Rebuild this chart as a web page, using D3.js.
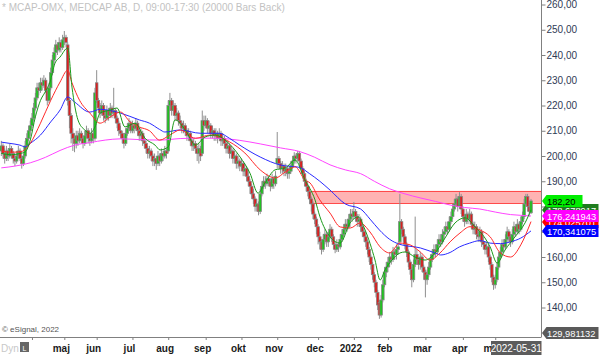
<!DOCTYPE html>
<html><head><meta charset="utf-8">
<script src="https://cdn.jsdelivr.net/npm/d3@7"></script>
<style>html,body{margin:0;padding:0;background:#fff;overflow:hidden}svg{display:block;font-family:"Liberation Sans",Arial,sans-serif}</style>
</head><body><svg id="c" width="600" height="355"></svg>
<script>
// Daily OHLC, index 0 = 2021-03-08 ... index 311 = 2022-05-31
const open=[202,204,201,199,202,200,203,201,199,198,
200,202,199,197,200,204,207,210,212,215,
219,223,227,226,229,228,230,226,222,227,
233,238,241,244,242,245,243,246,247,244,
222,216,209,207,205,208,206,209,207,205,
208,210,207,206,209,207,229,222,219,217,
220,216,215,218,216,219,217,218,215,213,
210,209,207,205,209,211,213,210,212,211,
213,210,208,209,206,205,203,201,202,200,
198,199,197,200,198,201,200,202,202,220,
222,218,220,216,217,214,213,211,212,210,
208,209,206,204,205,203,201,203,201,214,
212,214,211,212,209,210,208,209,207,209,
206,207,205,203,204,201,202,199,200,197,
198,196,197,194,195,192,190,188,185,183,
180,181,178,185,188,190,189,191,190,188,
191,189,197,199,197,195,196,194,195,193,
194,196,198,200,199,201,198,195,193,190,
188,186,183,181,177,175,172,168,166,163,
167,169,166,168,171,168,165,163,165,164,
167,169,171,173,172,175,177,176,178,176,
174,175,172,170,168,166,163,160,157,153,
150,146,142,137,143,149,154,156,158,160,
159,162,161,163,166,174,171,168,165,162,
158,155,151,157,161,159,157,160,156,154,
151,153,156,159,161,163,162,165,167,166,
169,170,172,171,174,176,179,181,183,180,
184,179,176,174,177,175,177,173,171,172,
169,168,170,166,165,163,164,160,157,152,
149,151,156,160,162,165,164,167,170,168,
166,169,172,170,173,171,174,176,181,184,
180,177.5];
const high=[206,205,203,204,203,205,204,202,201,202,
204,203,200,201,206,209,212,214,217,221,
225,229,229,231,231,232,231,227,229,235,
240,243,246,245,247,246,248,249.5,248,245,
223,217,211,209,210,210,211,210,208,210,
212,211,209,211,210,227,234,223,221,222,
221,218,220,219,221,220,227,219,216,214,
212,210,208,211,213,215,214,214,213,215,
214,211,211,210,208,206,204,204,203,201,
201,200,202,201,203,202,204,203,222,225,
223,222,221,219,218,216,214,214,213,211,
211,210,207,207,206,204,205,204,218,216,
216,215,214,213,212,211,211,210,211,210,
209,208,206,206,205,204,203,202,201,200,
199,199,198,197,196,194,191,189,187,184,
183,182,187,190,192,192,193,192,191,193,
192,194,209.5,200,198,198,197,197,196,196,
198,200,201.5,201,202,202,199,196,194,191,
189,187,184,182,178,176,173,170,167,169,
171,170,170,173,172,169,166,167,166,169,
171,173,175,175,177,179,179,181.8,179,177,
177,176,173,171,169,167,164,161,158,154,
151,147,143,145,151,156,158,160,162,162,
164,163,165,166,185,175,172,169,166,163,
159,156,159,176,163,160,162,161,157,155,
155,158,161,163,165,165,167,169,169,171,
172,174,174,176,178,181,183,185,184,185.7,
185,180,177,179,178,179,178,174,174,173,
171,172,171,168,166,166,165,161,158,153,
153,158,162,164,167,167,169,172,171,169,
171,174,173,175,174,176,178,183,185,185,
181,183];
const low=[200,199,197,198,198,199,199,197,196,197,
199,198,195,196,199,203,206,208,211,214,
218,222,224,225,226,227,225,220,221,226,
232,236,239,240,241,241,242,244,243,220,
211,205,202,201.5,203,204,205,205,203,204,
207,205,204,205,205,206,221,217,215,216,
214,213,214,214,215,215,216,213,211,208,
207,205,203,204,208,210,209,209,209,210,
208,206,206,204,203,201,199,199,198,196,
196,194.5,196,196,197,198,199,199,201,218,
216,216,214,214,212,211,209,209,208,206,
206,204,202,202,201,198,197,198,200,210,
211,209,209,207,207,206,206,205,206,204,
204,203,201,201,199,199,197,197,195,195,
194,194,192,192,190,188,185,183,181,178,
178,176.5,177,184,187,187,188,188,186,187,
187,188,195,195,193,193,192,192,191,191,
193,195,197,197,198,196,193,191,188,186,
184,181,178,175,173,169,165,163,161,162,
165,164,164,167,166,163,161.5,162,162,163,
166,168,170,170,171,174,174,175,174,172,
172,170,168,166,164,161,158,155,151,148,
144,139,135.5,136,142,148,152,154,156,157,
158,159,159,161,165,169,166,163,160,156,
153,148,150,156,157,155,155,154,151,144,
149,152,155,158,160,160,161,164,164,165,
167,169,169,170,173,175,178,180,178,179,
177,174,172,173,173,174,171,169,169,167,
166,166,164,163,161,161,158,155,150,147,
147.5,150,155,159,161,162,163,166,166,164,
165,168,168,169,169,170,173,175,180,178,
176,177];
const close=[204,201,199,202,200,203,201,199,198,200,
202,199,197,200,204,207,210,212,215,219,
223,227,226,229,228,230,226,222,227,233,
238,241,244,242,245,243,246,247,245,222,
216,209,207,205,208,206,209,207,205,208,
210,207,206,209,207,225,222,219,217,220,
216,215,218,216,219,217,218,215,213,210,
209,207,205,209,211,213,210,212,211,213,
210,208,209,206,205,203,201,202,200,198,
199,197,200,198,201,200,202,201,220,222,
218,220,216,217,214,213,211,212,210,208,
209,206,204,205,203,201,203,200,214,212,
214,211,212,209,210,208,209,207,209,206,
207,205,203,204,201,202,199,200,197,198,
196,197,194,195,192,190,188,185,183,180,
181,178,185,188,190,189,191,190,188,191,
189,192,199,197,195,196,194,195,193,194,
196,198,200,199,201,198,195,193,190,188,
186,183,181,177,175,172,168,166,163,167,
169,166,168,171,168,165,163,165,164,167,
169,171,173,172,175,177,176,178,176,174,
175,172,170,168,166,163,160,157,153,150,
146,141,137,143,149,154,156,158,160,159,
162,161,163,164,174,171,168,165,162,158,
155,151,157,161,159,157,160,156,154,151,
153,156,159,161,163,162,165,167,166,169,
170,172,171,174,176,179,181,183,180,184,
179,176,174,177,175,177,173,171,172,169,
168,170,166,165,163,164,160,157,152,149,
151,156,160,162,165,164,167,170,168,166,
169,172,170,173,171,174,176,181,184,180,
178,182.2];

// Moving averages as [bar index, value]
const maGreen=[[0,201],[6,200.5],[11,201],[14,201.6],[17,206.3],[20,215.5],[23,222],[25.7,225.3],[28.6,229.3],[31.5,236.7],[34.5,239.2],[39,242.8],[41.5,227.3],[45,214.3],[49,210.3],[52,209],[55,211.5],[58,217],[64,218.2],[68,219],[72.6,211.5],[78.5,213],[84.4,207],[90.3,204.3],[93.2,202.4],[98,203.6],[102,214.3],[108,210.3],[114,204.3],[119.6,207.5],[125.5,208.3],[131.4,206.3],[140.2,199.6],[146,193.2],[150.7,185.3],[154.8,189.3],[160.7,194.5],[166.6,195.2],[172.5,198.4],[178.3,190.5],[184.2,182.6],[187.1,175.9],[193,168],[198.9,165.5],[204.8,173.5],[209.5,175.9],[213.6,170.7],[219.4,158.8],[222.4,150.9],[225.3,154.9],[229.4,158.8],[234.1,161.6],[237.1,162],[242.9,160],[248.8,158.8],[254.7,161.6],[260.5,167.5],[266.4,173.5],[272.3,175.5],[278.2,171.9],[284,167.5],[287,164],[291.1,157.6],[295.8,162.8],[301.6,168],[307.5,173.5],[311,178.678917]];
const maRed=[[0,202],[6,201.5],[11,201.6],[17,205],[23,213],[29,222],[34.5,229.3],[39,234],[41.5,229],[46,222],[52,217],[58,213],[64,215.5],[70,217.4],[75.6,213.5],[81,211.5],[87,210],[93,206.3],[99,208.3],[105,210.3],[114,207],[122.5,208.3],[134,205.6],[143,201.2],[152,194.5],[161,191.3],[166.6,193.6],[172.5,195.7],[178.3,190.5],[181.3,189.3],[187,182.6],[193,177.4],[199,171.9],[205,171.5],[210.6,173.5],[216.5,169.9],[222.4,164],[228,161.6],[234,165.5],[240,164.8],[246,162],[251.7,158.8],[257.6,161.6],[263.5,166],[269.3,169.5],[275.2,172],[281,170.7],[287,168],[293,161.6],[299,160],[305,164.8],[311,174.025701]];
const maBlue=[[0,205.5],[5,205],[11,204.3],[14,203.6],[17,205],[23,208.3],[29,213.5],[34.5,218.2],[39,223.4],[43,221.4],[52,217.4],[58,218.5],[64,218],[70,217],[81,214.3],[87,213],[93,210.5],[96,209.5],[105,210.3],[117,209],[128,209],[134,207],[140,204.3],[152,199.6],[164,196.4],[175,195.5],[181,193],[187,190],[193,186.5],[202,181],[211,179],[216.5,175],[222,170.7],[228,167],[234,165],[246,163.6],[255,161.5],[258,160.8],[263.5,161.8],[269,164],[275,165.5],[281,166.5],[287,165.5],[293,165.3],[299,166],[305,167.5],[311,170.341075]];
const maMagenta=[[0,195.3],[8,196],[17,197.3],[26,199.5],[34.5,202.2],[43,204.3],[52,205.3],[61,206.3],[70,206.8],[81,206.5],[93,206.3],[105,206.9],[117,207.1],[128,207],[140,206.2],[152,204.8],[164,203.2],[175,201.8],[184,199.5],[193,196.5],[202,194.5],[211,193],[219,190],[228,187],[237,185],[246,183.4],[255,182],[263.5,180.6],[272,179.6],[281,179],[290,177.8],[299,176.8],[305,176.5],[311,176.241943]];

// Resistance zone
const zoneStart=182, zoneLow=181.3, zoneHigh=186.2;

const yTicks=[140,150,160,170,180,190,200,210,220,230,240,250,260];
const monthTickIdx=[18,37,56,77,98,120,141,162,186,207,227,249,271,290];
const monthLabels=["","maj","jun","jul","aug","sep","okt","nov","dec","2022","feb","mar","apr","maj"];

// Price markers on the right scale
const markerValues=[178.678917,174.025701,176.241943,170.341075,182.20,129.981132];
const markerTexts=["178,678917","174,025701","176,241943","170,341075","182,20","129,981132"];
const markerFill=["#1e7d1e","#ff0000","#ff00ff","#0000ff","#00ee00","#5a5a5a"];
const markerInk=["#ffffff","#ffffff","#ffffff","#ffffff","#000000","#ffffff"];
const markerWidth=[52,52,52,52,36,52];

const svg=d3.select("#c");
const W=600,H=355, axisX=541.5, baseY=337;
const x=d3.scaleLinear().domain([0,311]).range([1.3,531]);
const y=d3.scaleLinear().domain([129.981132,260]).range([332.8,4.5]);

svg.append("rect").attr("width",W).attr("height",H).attr("fill","#fff");
svg.append("defs").append("clipPath").attr("id","plot").append("rect").attr("x",0).attr("y",0).attr("width",axisX).attr("height",baseY);
const g=svg.append("g").attr("clip-path","url(#plot)");

// zone
g.append("rect").attr("x",x(zoneStart)).attr("y",y(zoneHigh)).attr("width",axisX-x(zoneStart)).attr("height",y(zoneLow)-y(zoneHigh)).attr("fill","#ffb3b3");
[zoneHigh,zoneLow].forEach(v=>g.append("line").attr("x1",x(zoneStart)).attr("x2",axisX).attr("y1",Math.round(y(v))+0.5).attr("y2",Math.round(y(v))+0.5).attr("stroke","#ff4a4a").attr("stroke-width",1));

// candles
const idx=d3.range(close.length);
g.append("g").selectAll("line").data(idx).join("line")
  .attr("x1",i=>x(i)).attr("x2",i=>x(i)).attr("y1",i=>y(high[i])).attr("y2",i=>y(low[i]))
  .attr("stroke","#8f8f8f").attr("stroke-width",1);
g.append("g").selectAll("rect").data(idx).join("rect")
  .attr("x",i=>x(i)-1.3).attr("width",2.6)
  .attr("y",i=>y(Math.max(open[i],close[i])))
  .attr("height",i=>Math.max(1,Math.abs(y(open[i])-y(close[i]))))
  .attr("fill",i=>close[i]>=open[i]?"#22c022":"#d82020")
  .attr("stroke","#858585").attr("stroke-width",0.75);

// moving averages
const line=d3.line().x(d=>x(d[0])).y(d=>y(d[1])).curve(d3.curveMonotoneX);
[[maMagenta,"#ff44ff"],[maBlue,"#2a2aff"],[maRed,"#ff2a2a"],[maGreen,"#1a9a1a"]].forEach(([d,c])=>{
  g.append("path").datum(d).attr("d",line).attr("fill","none").attr("stroke",c).attr("stroke-width",1);
});

// right axis
const fmt=v=>d3.format(".2f")(v).replace(".",",");
const ax=svg.append("g").attr("transform",`translate(${axisX},0)`)
  .call(d3.axisRight(y).tickValues(yTicks).tickSize(4).tickPadding(1).tickFormat(fmt));
ax.select(".domain").remove();
ax.selectAll(".tick line").attr("stroke","#808080");
ax.selectAll(".tick text").attr("fill","#2f3a55").attr("font-size",10).attr("font-family","Liberation Sans, Arial, sans-serif");
svg.append("line").attr("x1",axisX).attr("x2",axisX).attr("y1",0).attr("y2",baseY).attr("stroke","#808080");
svg.append("line").attr("x1",0).attr("x2",axisX).attr("y1",baseY+0.5).attr("y2",baseY+0.5).attr("stroke","#808080");

// markers
markerValues.forEach((v,k)=>{
  const cy=Math.round(y(v));
  const w=markerWidth[k];
  svg.append("path").attr("d",`M${axisX+0.5},${cy} L${axisX+5},${cy-6} L${axisX+5+w},${cy-6} L${axisX+5+w},${cy+6} L${axisX+5},${cy+6} Z`).attr("fill",markerFill[k]);
  svg.append("text").attr("x",axisX+5.5).attr("y",cy+3.5).attr("font-size",9.3).attr("fill",markerInk[k]).text(markerTexts[k]);
});

// x axis
const xa=svg.append("g").attr("transform",`translate(0,${baseY})`)
  .call(d3.axisBottom(x).tickValues(monthTickIdx).tickSize(3).tickFormat(""));
xa.select(".domain").remove();
xa.selectAll(".tick line").attr("stroke","#808080");
svg.append("g").selectAll("text").data(monthTickIdx).join("text")
  .attr("x",i=>x(i)-3).attr("y",352).attr("text-anchor","middle")
  .attr("font-size",10).attr("font-weight","bold").attr("fill","#1a1a1a")
  .text((i,k)=>monthLabels[k]);

// date box
svg.append("rect").attr("x",491).attr("y",341).attr("width",axisX-491).attr("height",14).attr("fill","#5c5c5c");
svg.append("text").attr("x",(491+axisX)/2).attr("y",352).attr("text-anchor","middle").attr("font-size",10).attr("fill","#fff").text("2022-05-31");

// texts
svg.append("text").attr("x",2).attr("y",11).attr("font-size",10).attr("fill","#c2c2c2").text("* MCAP-OMX, MEDCAP AB, D, 09:00-17:30 (20000 Bars Back)");
svg.append("text").attr("x",2).attr("y",332).attr("font-size",8).attr("fill","#555").text("© eSignal, 2022");
svg.append("text").attr("x",1).attr("y",352).attr("font-size",10).attr("fill","#c8c8c8").text("Dyn");
svg.append("rect").attr("x",20).attr("y",342).attr("width",9).attr("height",10).attr("fill","#666");
svg.append("text").attr("x",24.5).attr("y",350.5).attr("text-anchor","middle").attr("font-size",7).attr("fill","#fff").text("L");
</script></body></html>
